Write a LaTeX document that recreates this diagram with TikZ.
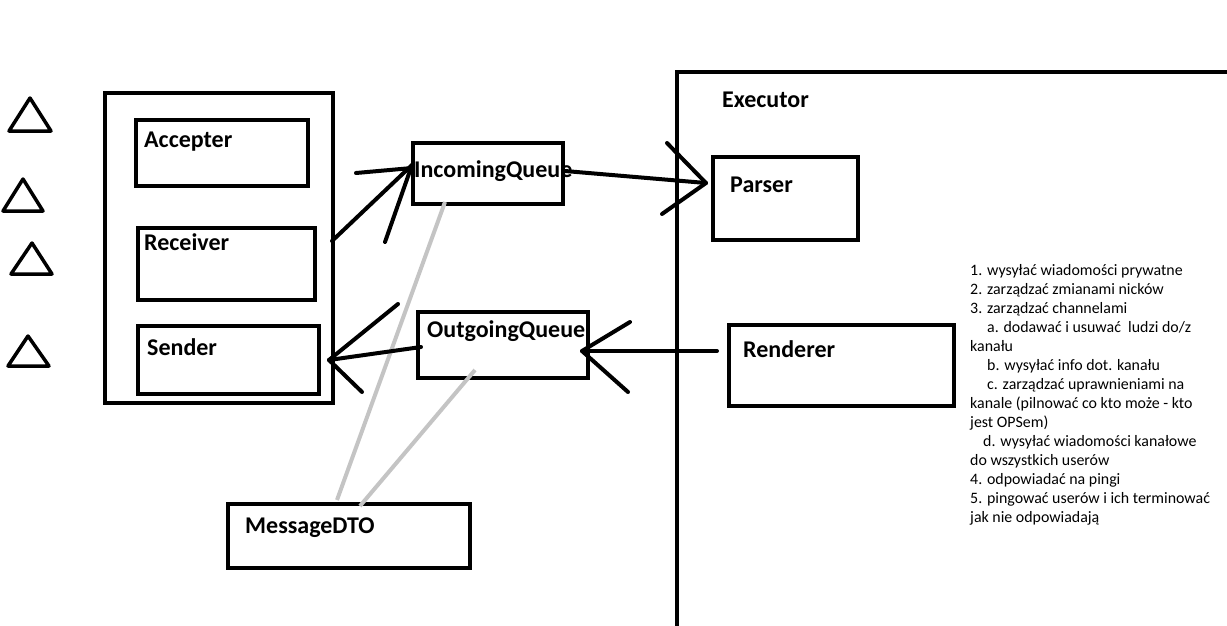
\documentclass[tikz,border=0pt]{standalone}
\usepackage{fontspec}
\setmainfont{Carlito}
\begin{document}
\begin{tikzpicture}[x=1pt,y=-1pt,
  box/.style={draw=black,line width=4.5pt,anchor=north west,inner sep=0pt,outer sep=0pt},
  lbl/.style={anchor=base west,inner sep=0pt,font=\bfseries\fontsize{24}{28}\selectfont},
  note/.style={anchor=base west,inner sep=0pt,font=\fontsize{15.9}{19}\selectfont},
  wire/.style={line width=4pt,line cap=round,line join=round},
  ghost/.style={line width=4pt,draw={rgb,255:red,196;green,196;blue,196}},
  tri/.style={line width=3.5pt,line join=round}]
\useasboundingbox (0,0) rectangle (1227,625);

% user markers on the left
\draw[tri] (30,98) -- (51,131) -- (9,131) -- cycle;
\draw[tri] (23,179) -- (43,211) -- (3,211) -- cycle;
\draw[tri] (32,243) -- (52,274) -- (11,274) -- cycle;
\draw[tri] (28,336) -- (49,366) -- (8,366) -- cycle;

% server container with its three parts
\node[box,minimum width=228pt,minimum height=310pt] (server) at (105,93) {};
\node[box,minimum width=172pt,minimum height=66pt] (accepter) at (136,120) {};
\node[box,minimum width=177pt,minimum height=72pt] (receiver) at (138,228) {};
\node[box,minimum width=181pt,minimum height=68pt] (sender) at (138,326) {};
\node[lbl] (accepterT) at (144,147) {Accepter};
\node[lbl] (receiverT) at (144,250) {Receiver};
\node[lbl] (senderT) at (147,355) {Sender};

% queues and the message object
\node[box,minimum width=150pt,minimum height=61pt] (inq) at (413,143) {};
\node[box,minimum width=170pt,minimum height=66pt] (outq) at (418,312) {};
\node[box,minimum width=242pt,minimum height=64pt] (dto) at (228,504) {};
\node[lbl] (inqT) at (414,177) {IncomingQueue};
\node[lbl] (outqT) at (427,337) {OutgoingQueue};
\node[lbl] (dtoT) at (245,533) {MessageDTO};

% executor area
\draw[line width=4.5pt] (677,640) -- (677,72) -- (1240,72);
\node[lbl] (execT) at (722,107) {Executor};
\node[box,minimum width=145pt,minimum height=83pt] (parser) at (713,157) {};
\node[box,minimum width=225pt,minimum height=81pt] (renderer) at (729,325) {};
\node[lbl] (parserT) at (730,192) {Parser};
\node[lbl] (rendererT) at (743,357) {Renderer};

% links to the message object
\coordinate (g1a) at (445,202);
\coordinate (g1b) at (337,500);
\coordinate (g2a) at (475,370);
\coordinate (g2b) at (360,506);
\draw[ghost] (g1a) -- (g1b);
\draw[ghost] (g2a) -- (g2b);

% receiver -> incoming queue
\coordinate (r0) at (332,241);
\coordinate (r1) at (412,165);
\coordinate (r1a) at (356,173);
\coordinate (r1b) at (385,242);
\draw[wire] (r0) -- (r1);
\draw[wire] (r1a) -- (412,168);
\draw[wire] (r1b) -- (r1);

% incoming queue -> parser
\coordinate (p0) at (565,171);
\coordinate (p1) at (706,183);
\coordinate (p1a) at (667,143);
\coordinate (p1b) at (662,214);
\draw[wire] (p0) -- (p1);
\draw[wire] (p1a) -- (p1) -- (p1b);

% outgoing queue -> sender
\coordinate (s0) at (421,347);
\coordinate (s1) at (329,360);
\coordinate (s1a) at (398,304);
\coordinate (s1b) at (362,392);
\draw[wire] (s0) -- (s1);
\draw[wire] (s1a) -- (s1) -- (s1b);

% renderer -> outgoing queue
\coordinate (o0) at (717,351);
\coordinate (o1) at (582,351);
\coordinate (o1a) at (630,322);
\coordinate (o1b) at (628,392);
\draw[wire] (o0) -- (o1);
\draw[wire] (o1a) -- (o1) -- (o1b);

% task list
\foreach \t [count=\i] in {
  {1. wysyłać wiadomości prywatne},
  {2. zarządzać zmianami nicków},
  {3. zarządzać channelami},
  {\hspace*{17pt}a. dodawać i usuwać\ \ ludzi do/z},
  {kanału},
  {\hspace*{17pt}b. wysyłać info dot. kanału},
  {\hspace*{17pt}c. zarządzać uprawnieniami na},
  {kanale (pilnować co kto może - kto},
  {jest OPSem)},
  {\hspace*{13pt}d. wysyłać wiadomości kanałowe},
  {do wszystkich userów},
  {4. odpowiadać na pingi},
  {5. pingować userów i ich terminować},
  {jak nie odpowiadają}}
  \node[note] (task\i) at (970,{275+19*(\i-1)}) {\t};
\end{tikzpicture}
\end{document}
